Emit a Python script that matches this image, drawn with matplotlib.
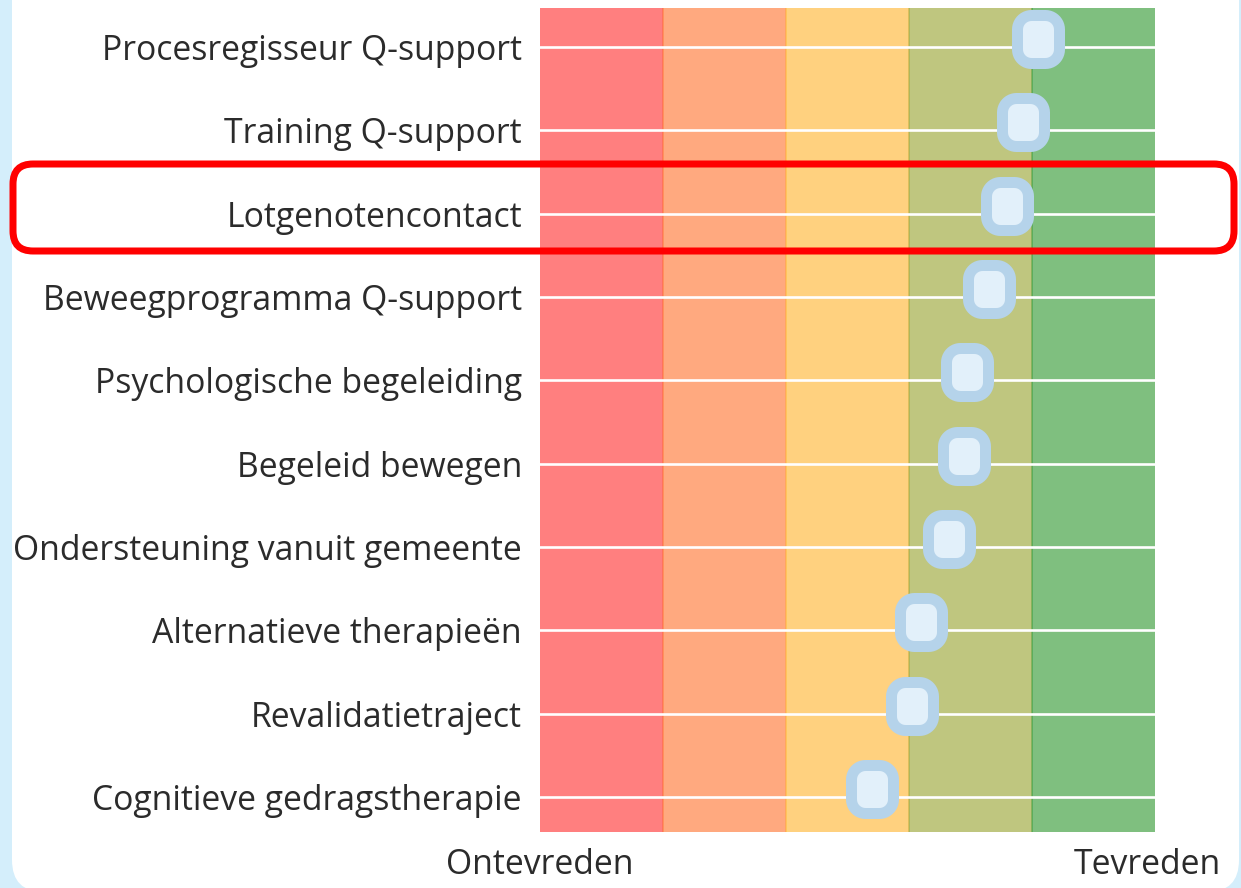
import numpy as np
import matplotlib
matplotlib.use("Agg")
import matplotlib.pyplot as plt
from matplotlib.patches import FancyBboxPatch
from matplotlib.path import Path
from matplotlib.transforms import offset_copy

plt.rcParams['font.family'] = ['Open Sans', 'DejaVu Sans']

# ==== data ====
categories = [
    "Procesregisseur Q-support",
    "Training Q-support",
    "Lotgenotencontact",
    "Beweegprogramma Q-support",
    "Psychologische begeleiding",
    "Begeleid bewegen",
    "Ondersteuning vanuit gemeente",
    "Alternatieve therapieën",
    "Revalidatietraject",
    "Cognitieve gedragstherapie",
]
scores = [8.1, 7.85, 7.6, 7.3, 6.95, 6.9, 6.65, 6.2, 6.05, 5.4]
band_edges = [0, 2, 4, 6, 8, 10]
band_colors = ['#FF0000', '#FF5500', '#FFA500', '#808F00', '#008000']
highlight = "Lotgenotencontact"
axis_labels = ["Ontevreden", "Tevreden"]

W, H = 1241, 888
DPI = 100
fig = plt.figure(figsize=(W / DPI, H / DPI), dpi=DPI)
fig.patch.set_facecolor('#D4EEFB')
TXT = '#2B2B2B'


def px_box(x0, y0, x1, y1):
    # top-left pixel coords -> inches from bottom-left
    return x0 / DPI, (H - y1) / DPI, (x1 - x0) / DPI, (y1 - y0) / DPI


# white panel with rounded corners
bx, by, bw, bh = px_box(12, -60, 1239, 892)
fig.patches.append(FancyBboxPatch((bx, by), bw, bh,
                                  boxstyle="round,pad=0,rounding_size=0.32",
                                  transform=fig.dpi_scale_trans,
                                  facecolor='white', edgecolor='none', zorder=-1))

ax = fig.add_axes([540 / W, 1 - 832 / H, 615 / W, 824 / H])
ax.set_facecolor('white')

n = len(categories)
ypos = np.arange(n)

for i, c in enumerate(band_colors):
    ax.axvspan(band_edges[i], band_edges[i + 1], facecolor=c, alpha=0.5, lw=0, zorder=1)
for i in range(1, len(band_edges) - 1):
    ax.axvline(band_edges[i], color=band_colors[i], alpha=0.3, lw=1.3, zorder=1.5)

for y in ypos:
    ax.axhline(y, color='white', lw=1.9, zorder=2)


def rounded_rect(w, h, r, k=12):
    pts = []
    corners = [(w / 2 - r, h / 2 - r, 0), (-w / 2 + r, h / 2 - r, 90),
               (-w / 2 + r, -h / 2 + r, 180), (w / 2 - r, -h / 2 + r, 270)]
    for cx, cy, a0 in corners:
        for t in np.radians(np.linspace(a0, a0 + 90, k)):
            pts.append((cx + r * np.cos(t), cy + r * np.sin(t)))
    pts.append(pts[0])
    return Path(pts, closed=True)


marker = rounded_rect(42, 48, 14)
trans = offset_copy(ax.transData, fig=fig, x=0, y=8, units='dots')
ax.plot(scores, ypos, linestyle='none', marker=marker, markersize=48 * 0.72,
        markerfacecolor='#E2F0FA', markeredgecolor='#B5D3EA', markeredgewidth=11 * 0.72,
        transform=trans, clip_on=False, zorder=3)

ax.set_xlim(band_edges[0], band_edges[-1])
ax.set_ylim(n - 1 + 0.42, -0.47)
ax.set_xticks([])
ax.set_yticks(ypos)
ax.set_yticklabels(categories, fontsize=24.3, color=TXT)
ax.tick_params(axis='y', length=0, pad=13)
for s in ax.spines.values():
    s.set_visible(False)

ax.text(band_edges[0], -0.02, axis_labels[0], transform=ax.get_xaxis_transform(),
        ha='center', va='top', fontsize=24.3, color=TXT)
ax.text(band_edges[-1] - 0.13, -0.02, axis_labels[1], transform=ax.get_xaxis_transform(),
        ha='center', va='top', fontsize=24.3, color=TXT)

# red highlight frame
hi = categories.index(highlight)
rx, ry, rw, rh = px_box(13, 164, 1234, 251)
fig.patches.append(FancyBboxPatch((rx, ry), rw, rh,
                                  boxstyle="round,pad=0,rounding_size=0.2",
                                  transform=fig.dpi_scale_trans,
                                  facecolor='none', edgecolor='#FF0000', lw=7 * 0.72,
                                  zorder=10))

fig.savefig("out.png", dpi=DPI, facecolor=fig.get_facecolor())
